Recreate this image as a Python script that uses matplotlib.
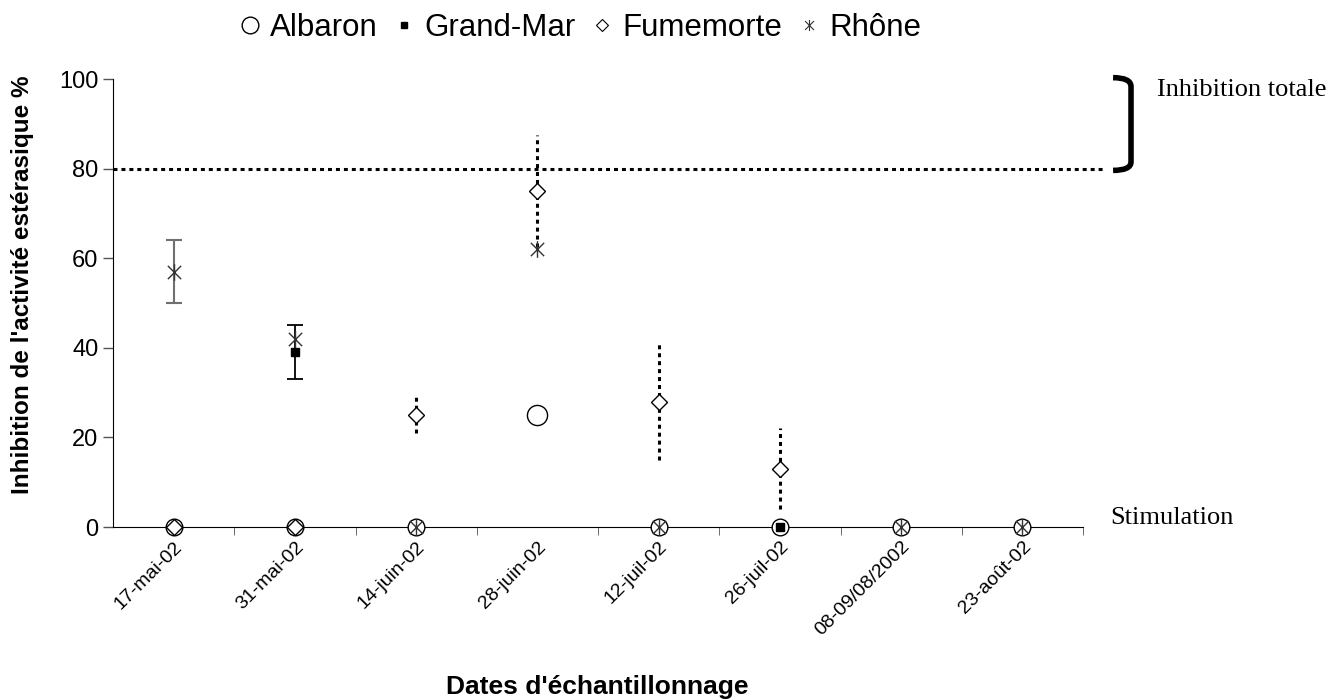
import numpy as np
import matplotlib
matplotlib.use('Agg')
import matplotlib.pyplot as plt
from matplotlib.path import Path
from matplotlib.lines import Line2D
from matplotlib.patches import PathPatch
from matplotlib.transforms import blended_transform_factory

plt.rcParams['font.family'] = ['Liberation Sans', 'DejaVu Sans']

dates = ['17-mai-02', '31-mai-02', '14-juin-02', '28-juin-02',
         '12-juil-02', '26-juil-02', '08-09/08/2002', '23-août-02']
nan = np.nan
albaron = [0, 0, 0, 25, 0, 0, 0, 0]
grand_mar = [nan, 39, nan, nan, nan, 0, nan, nan]
grand_mar_err = [nan, 6, nan, nan, nan, nan, nan, nan]
fumemorte = [0, 0, 25, 75, 28, 13, nan, nan]
fumemorte_err = [nan, nan, 4, 12.5, 13, 9, nan, nan]
rhone = [57, 42, 0, 62, 0, nan, 0, 0]
rhone_err = [7, nan, nan, nan, nan, nan, nan, nan]

x = np.arange(len(dates))

# asterisk-like marker (x + vertical bar)
star = Path([(-1, -1), (1, 1), (-1, 1), (1, -1), (0, -1.25), (0, 1.25)],
            [Path.MOVETO, Path.LINETO, Path.MOVETO, Path.LINETO, Path.MOVETO, Path.LINETO])

fig = plt.figure(figsize=(13.44, 6.99), dpi=100)
ax = fig.add_axes([113/1344, 1-527/699, 970/1344, 448/699])

# error bars
eb = ax.errorbar(x, fumemorte, yerr=fumemorte_err, fmt='none', ecolor='black',
                 elinewidth=2.2, capsize=0, zorder=2)
eb.lines[2][0].set_linestyle((0, (1.3, 1.3)))
ax.errorbar(x, rhone, yerr=rhone_err, fmt='none', ecolor='#707070',
            elinewidth=1.5, capsize=6, capthick=1.5, zorder=2)
ax.errorbar(x, grand_mar, yerr=grand_mar_err, fmt='none', ecolor='black',
            elinewidth=1.3, capsize=6, capthick=1.3, zorder=2)

# markers
alb = np.array(albaron, dtype=float)
ax.plot(x[alb == 0], alb[alb == 0], 'o', ms=12, mfc='white', mec='black', mew=1.0,
        zorder=5, clip_on=False)
ax.plot(x[alb > 0], alb[alb > 0], 'o', ms=14.5, mfc='white', mec='black', mew=1.0, zorder=3)
ax.plot(x, grand_mar, 's', ms=6, color='black', zorder=6, clip_on=False)
ax.plot(x, fumemorte, 'D', ms=8, mfc='white', mec='black', mew=1.0, zorder=6, clip_on=False)
ax.plot(x, rhone, linestyle='none', marker=star, ms=12, mfc='none', mec='#333333', mew=1.0,
        zorder=6, clip_on=False)

ax.set_xlim(-0.5, len(dates) - 0.5)
ax.set_ylim(0, 100)
ax.set_yticks([0, 20, 40, 60, 80, 100])
ax.tick_params(axis='y', labelsize=17, length=7, width=1, color='#555555', direction='out')
ax.set_xticks(x)
ax.set_xticklabels(dates, rotation=45, ha='right', rotation_mode='anchor', fontsize=14)
ax.tick_params(axis='x', length=0, pad=8)
ax.set_xticks(np.arange(0.5, len(dates)), minor=True)
ax.tick_params(axis='x', which='minor', length=6, color='#555555', direction='out')
ax.spines['top'].set_visible(False)
ax.spines['right'].set_visible(False)
ax.set_ylabel("Inhibition de l'activité estérasique %", fontsize=17.5, fontweight='bold')
ax.yaxis.set_label_coords(-0.081, 0.54)
ax.set_xlabel("Dates d'échantillonnage", fontsize=19, fontweight='bold', va='top')
ax.xaxis.set_label_coords(0.499, -0.33)

# total inhibition line and bracket
tr = blended_transform_factory(ax.transAxes, ax.transData)
ax.plot([0, 1.0227], [80, 80], color='black', lw=2.2, linestyle=(0, (1.3, 1.3)),
        transform=tr, clip_on=False)
bx0, bx1 = 1.031, 1.0495
br = Path([(bx0, 100.3), (bx1, 100.3), (bx1, 98.3), (bx1, 81.5), (bx1, 79.6), (bx0, 79.6)],
          [Path.MOVETO, Path.CURVE3, Path.CURVE3, Path.LINETO, Path.CURVE3, Path.CURVE3])
ax.add_patch(PathPatch(br, fill=False, lw=4, transform=tr, clip_on=False))
ax.text(1.076, 97.5, 'Inhibition totale', transform=tr, fontsize=19,
        family='Liberation Serif', va='center', ha='left')
ax.text(1.028, 2, 'Stimulation', transform=tr, fontsize=19,
        family='Liberation Serif', va='center', ha='left')

# legend
handles = [Line2D([], [], ls='none', marker='o', ms=12, mfc='white', mec='black', mew=1),
           Line2D([], [], ls='none', marker='s', ms=5, color='black'),
           Line2D([], [], ls='none', marker='D', ms=6, mfc='white', mec='black', mew=0.8),
           Line2D([], [], ls='none', marker=star, ms=8, mfc='none', mec='#333333', mew=0.8)]
fig.legend(handles, ['Albaron', 'Grand-Mar', 'Fumemorte', 'Rhône'], ncol=4, frameon=False,
           fontsize=22.5, loc='center', bbox_to_anchor=(0.431, 0.96),
           handlelength=0.8, handletextpad=0.25, columnspacing=0.45)

fig.savefig('out.png', dpi=100)
